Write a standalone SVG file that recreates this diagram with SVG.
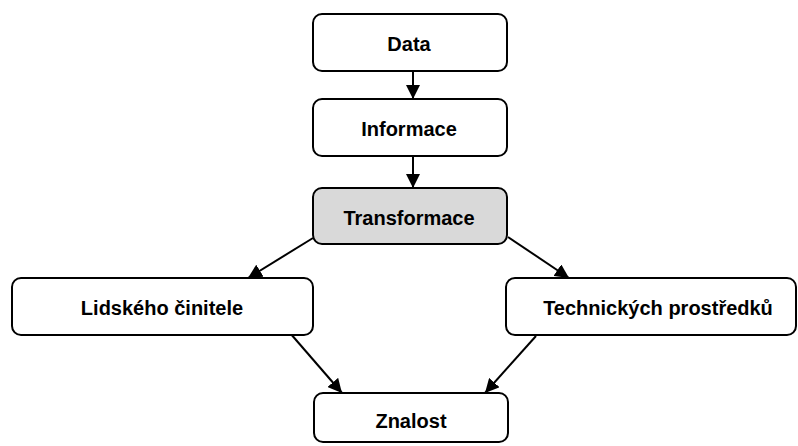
<svg xmlns="http://www.w3.org/2000/svg" width="798" height="446" viewBox="0 0 798 446">
  <style>
    .box { fill: #ffffff; stroke: #000000; stroke-width: 2; }
    .hl { fill: #d9d9d9; }
    .lbl { font-family: "Liberation Sans", Arial, sans-serif; font-weight: bold; font-size: 20px; fill: #000000; text-anchor: middle; dominant-baseline: central; }
    .edge { stroke: #000000; stroke-width: 2; fill: none; marker-end: url(#arrow); }
  </style>
  <defs>
    <marker id="arrow" viewBox="0 0 10 10" refX="10" refY="5" markerWidth="7" markerHeight="7" markerUnits="strokeWidth" orient="auto">
      <path d="M0,0 L10,5 L0,10 Z" fill="#000000"/>
    </marker>
  </defs>

  <rect width="798" height="446" fill="#ffffff"/>

  <g id="connectors">
    <line class="edge" x1="413" y1="71" x2="413" y2="99"/>
    <line class="edge" x1="413" y1="156" x2="413" y2="188"/>
    <line class="edge" x1="313" y1="238" x2="248" y2="278"/>
    <line class="edge" x1="508" y1="237" x2="569" y2="278"/>
    <line class="edge" x1="290" y1="333" x2="342" y2="393"/>
    <line class="edge" x1="536" y1="336" x2="485" y2="393"/>
  </g>

  <g id="data">
    <rect class="box" x="313" y="14" width="194" height="57" rx="9"/>
    <text class="lbl" x="409" y="44">Data</text>
  </g>

  <g id="informace">
    <rect class="box" x="313" y="99" width="194" height="57" rx="9"/>
    <text class="lbl" x="409" y="129">Informace</text>
  </g>

  <g id="transformace">
    <rect class="box hl" x="313" y="188" width="194" height="56" rx="9"/>
    <text class="lbl" x="409" y="218">Transformace</text>
  </g>

  <g id="lidskeho">
    <rect class="box" x="12" y="278" width="301" height="57" rx="9"/>
    <text class="lbl" x="162" y="308">Lidského činitele</text>
  </g>

  <g id="technickych">
    <rect class="box" x="506" y="278" width="290" height="57" rx="9"/>
    <text class="lbl" x="658" y="308">Technických prostředků</text>
  </g>

  <g id="znalost">
    <rect class="box" x="314" y="393" width="194" height="49" rx="9"/>
    <text class="lbl" x="411" y="421">Znalost</text>
  </g>
</svg>
